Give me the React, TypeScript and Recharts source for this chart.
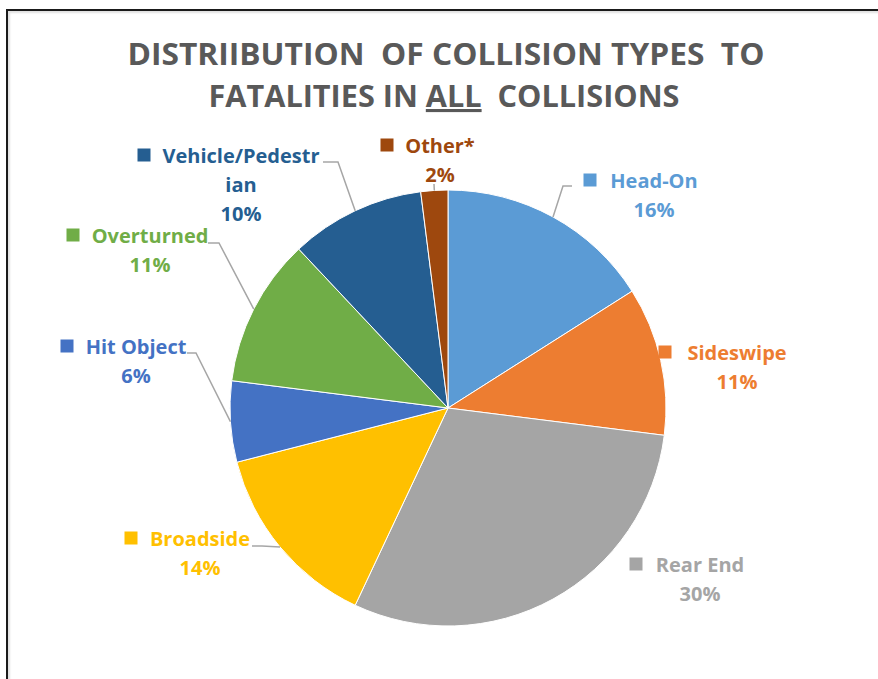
import React from "react"
import { PieChart, Pie, Cell } from "recharts"

// collision types, clockwise from 12 o'clock
const categories = [
  "Head-On",
  "Sideswipe",
  "Rear End",
  "Broadside",
  "Hit Object",
  "Overturned",
  "Vehicle/Pedestrian",
  "Other*",
]
const shares = [16, 11, 30, 14, 6, 11, 10, 2]
const labelLines = [
  ["Head-On"],
  ["Sideswipe"],
  ["Rear End"],
  ["Broadside"],
  ["Hit Object"],
  ["Overturned"],
  ["Vehicle/Pedestr", "ian"],
  ["Other*"],
]
const colors = ["#5B9BD5", "#ED7D31", "#A5A5A5", "#FFC000", "#4472C4", "#70AD47", "#255E91", "#9E480E"]

const data = categories.map((name, i) => ({ name, value: shares[i] }))

// label placement, relative to the pie centre
type LabelPos = { nx: number; ny: number; kx: number; lead?: [number, number, number, number] }
const labelPos: LabelPos[] = [
  { nx: 206, ny: -228, kx: 142, lead: [124, -222, 115, -222] },
  { nx: 289, ny: -56, kx: 217 },
  { nx: 252, ny: 156, kx: 188 },
  { nx: -248, ny: 130, kx: -317, lead: [-196, 138, -186, 138] },
  { nx: -312, ny: -62, kx: -381, lead: [-261, -55, -252, -55] },
  { nx: -298, ny: -173, kx: -375, lead: [-240, -165, -229, -165] },
  { nx: -207, ny: -253, kx: -304, lead: [-125, -246, -110, -246] },
  { nx: -8, ny: -263, kx: -61, lead: [-14, -224, -14, -224] },
]

const RAD = Math.PI / 180
const LINE_H = 29

function renderLabel(props: any) {
  const { cx, cy, midAngle, outerRadius, index, value } = props
  const p = labelPos[index]
  const color = colors[index]
  const lines = labelLines[index]
  const ex = cx + outerRadius * Math.cos(-midAngle * RAD)
  const ey = cy + outerRadius * Math.sin(-midAngle * RAD)
  return (
    <g key={`lbl-${index}`}>
      {p.lead && (
        <polyline
          points={`${cx + p.lead[0]},${cy + p.lead[1]} ${cx + p.lead[2]},${cy + p.lead[3]} ${ex},${ey}`}
          fill="none"
          stroke="#A6A6A6"
          strokeWidth={1.5}
        />
      )}
      <rect x={cx + p.kx - 6.5} y={cy + p.ny - 6.5} width={13} height={13} fill={color} />
      {lines.map((t, j) => (
        <text
          key={j}
          x={cx + p.nx}
          y={cy + p.ny + j * LINE_H}
          textAnchor="middle"
          dominantBaseline="central"
          fill={color}
          fontSize={20}
          fontWeight={700}
          fontFamily="'Open Sans', sans-serif"
        >
          {t}
        </text>
      ))}
      <text
        x={cx + p.nx}
        y={cy + p.ny + lines.length * LINE_H}
        textAnchor="middle"
        dominantBaseline="central"
        fill={color}
        fontSize={20}
        fontWeight={700}
        fontFamily="'Open Sans', sans-serif"
      >
        {`${value}%`}
      </text>
    </g>
  )
}

export default function App() {
  return (
    <div
      style={{
        position: "absolute",
        left: 0,
        top: 0,
        width: 878,
        height: 679,
        overflow: "hidden",
        background: "#fff",
      }}
    >
      <style>{`.recharts-pie-sectors { filter: drop-shadow(0 0 3px rgba(0,0,0,0.28)); }`}</style>
      <div
        style={{
          position: "absolute",
          left: 6,
          top: 9,
          width: 900,
          height: 700,
          borderLeft: "2px solid #1a1a1a",
          borderTop: "2px solid #1a1a1a",
          boxShadow: "inset 2px 2px 2px rgba(0,0,0,0.12)",
        }}
      />
      <svg
        width={878}
        height={130}
        style={{ position: "absolute", left: 0, top: 0 }}
        fontFamily="'Open Sans', sans-serif"
        fontWeight={700}
        fill="#595959"
      >
        <text x={446} y={65} textAnchor="middle" fontSize={31} textLength={637} lengthAdjust="spacingAndGlyphs" style={{ whiteSpace: "pre" }}>
          {"DISTRIIBUTION  OF COLLISION TYPES  TO"}
        </text>
        <text x={444} y={107} textAnchor="middle" fontSize={31} textLength={471} lengthAdjust="spacingAndGlyphs" style={{ whiteSpace: "pre" }}>
          <tspan>{"FATALITIES IN "}</tspan>
          <tspan textDecoration="underline" style={{ textDecoration: "underline" }}>ALL</tspan>
          <tspan>{"  COLLISIONS"}</tspan>
        </text>
      </svg>
      <div style={{ position: "absolute", left: 0, top: 0 }}>
        <PieChart width={878} height={679} margin={{ top: 0, right: 0, bottom: 0, left: 0 }}>
          <Pie
            data={data}
            dataKey="value"
            nameKey="name"
            cx={448}
            cy={408}
            outerRadius={218}
            startAngle={90}
            endAngle={-270}
            stroke="#ffffff"
            strokeWidth={1}
            label={renderLabel}
            labelLine={false}
            isAnimationActive={false}
          >
            {data.map((d, i) => (
              <Cell key={d.name} fill={colors[i]} />
            ))}
          </Pie>
        </PieChart>
      </div>
    </div>
  )
}
